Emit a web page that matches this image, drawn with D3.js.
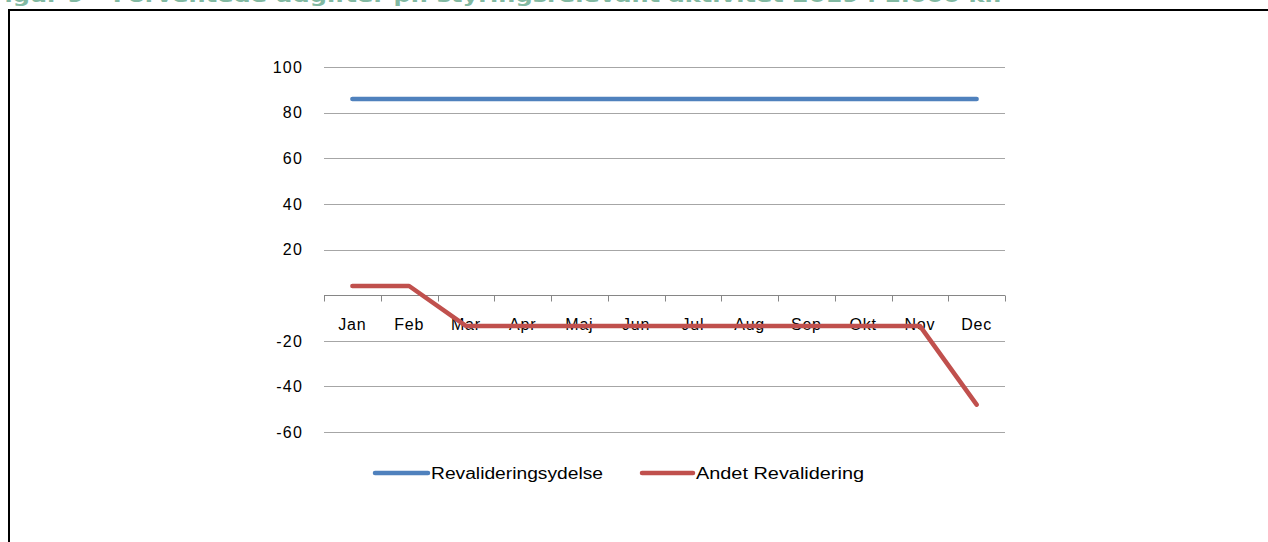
<!DOCTYPE html>
<html>
<head>
<meta charset="utf-8">
<script src="https://cdn.jsdelivr.net/npm/d3@7"></script>
<style>
  html, body { margin: 0; padding: 0; background: #fff; }
  svg { display: block; }
</style>
</head>
<body>
<svg id="chart" width="1268" height="542"></svg>
<script>
const titleText = "Figur 9 – Forventede udgifter pr. styringsrelevant aktivitet 2019 i 1.000 kr.";
const months = ["Jan","Feb","Mar","Apr","Maj","Jun","Jul","Aug","Sep","Okt","Nov","Dec"];
const seriesNames = ["Revalideringsydelse", "Andet Revalidering"];
const revalideringsydelse = [86, 86, 86, 86, 86, 86, 86, 86, 86, 86, 86, 86];
const andetRevalidering = [4, 4, -13.5, -13.5, -13.5, -13.5, -13.5, -13.5, -13.5, -13.5, -13.5, -48];
const yTicks = [-60, -40, -20, 0, 20, 40, 60, 80, 100];
const colors = ["#4f81bd", "#c0504d"];

const svg = d3.select("#chart");
const font = "'DejaVu Sans', Verdana, sans-serif";
const labelFont = "'Liberation Sans', Arial, sans-serif";

// title (clipped at top like the reference)
svg.append("text")
  .attr("x", -12).attr("y", 2)
  .attr("textLength", 1014).attr("lengthAdjust", "spacingAndGlyphs")
  .attr("font-family", font).attr("font-weight", "bold").attr("font-size", 17)
  .attr("fill", "#82b9a2")
  .text(titleText);

// frame
svg.append("path")
  .attr("d", "M9,542 V10 H1268")
  .attr("fill", "none").attr("stroke", "#000").attr("stroke-width", 2);

const x = d3.scaleBand().domain(months).range([324, 1005]);
const y = d3.scaleLinear().domain([-60, 100]).range([432, 67]);

// gridlines
svg.append("g").selectAll("line")
  .data(yTicks.filter(d => d !== 0))
  .join("line")
  .attr("x1", 324).attr("x2", 1005)
  .attr("y1", d => Math.round(y(d)) + 0.5).attr("y2", d => Math.round(y(d)) + 0.5)
  .attr("stroke", "#a6a6a6").attr("stroke-width", 1);

// y labels
svg.append("g").selectAll("text")
  .data(yTicks.filter(d => d !== 0))
  .join("text")
  .attr("x", 303).attr("y", d => y(d))
  .attr("dy", "0.36em")
  .attr("text-anchor", "end")
  .attr("font-family", labelFont).attr("font-size", 16)
  .attr("letter-spacing", 1.2)
  .attr("fill", "#000")
  .text(d => d);

// category axis at zero
const y0 = Math.round(y(0)) + 0.5;
svg.append("line")
  .attr("x1", 324).attr("x2", 1005).attr("y1", y0).attr("y2", y0)
  .attr("stroke", "#868686").attr("stroke-width", 1);
const bounds = months.map(m => x(m)).concat([x.range()[1]]);
svg.append("g").selectAll("line")
  .data(bounds)
  .join("line")
  .attr("x1", d => Math.round(d) + 0.5).attr("x2", d => Math.round(d) + 0.5)
  .attr("y1", y0).attr("y2", y0 + 6)
  .attr("stroke", "#868686").attr("stroke-width", 1);
svg.append("g").selectAll("text")
  .data(months)
  .join("text")
  .attr("x", d => x(d) + x.bandwidth() / 2).attr("y", 324)
  .attr("dy", "0.36em")
  .attr("text-anchor", "middle")
  .attr("font-family", labelFont).attr("font-size", 16)
  .attr("letter-spacing", 0.8)
  .attr("fill", "#000")
  .text(d => d);

// lines
const line = d3.line()
  .x((d, i) => x(months[i]) + x.bandwidth() / 2)
  .y(d => y(d));
[revalideringsydelse, andetRevalidering].forEach((vals, i) => {
  svg.append("path")
    .datum(vals)
    .attr("d", line)
    .attr("fill", "none")
    .attr("stroke", colors[i])
    .attr("stroke-width", 4.5)
    .attr("stroke-linecap", "round")
    .attr("stroke-linejoin", "round");
});

// legend
const legendItems = [
  { name: seriesNames[0], color: colors[0], x1: 375, x2: 428, tx: 431, tl: 172 },
  { name: seriesNames[1], color: colors[1], x1: 642, x2: 693, tx: 696, tl: 168 }
];
const lg = svg.append("g");
legendItems.forEach(it => {
  lg.append("line")
    .attr("x1", it.x1).attr("x2", it.x2).attr("y1", 473).attr("y2", 473)
    .attr("stroke", it.color).attr("stroke-width", 4.5).attr("stroke-linecap", "round");
  lg.append("text")
    .attr("x", it.tx).attr("y", 473).attr("dy", "0.36em")
    .attr("textLength", it.tl).attr("lengthAdjust", "spacingAndGlyphs")
    .attr("font-family", labelFont).attr("font-size", 16)
    .attr("fill", "#000")
    .text(it.name);
});
</script>
</body>
</html>
